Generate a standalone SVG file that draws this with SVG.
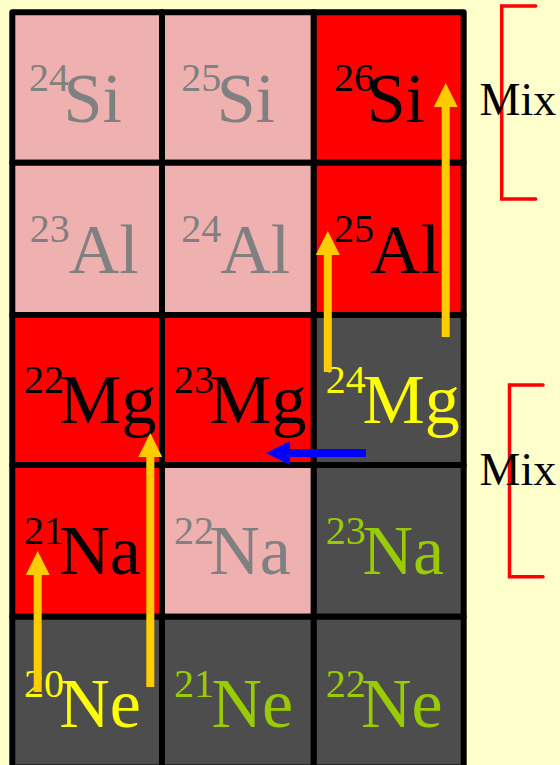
<svg xmlns="http://www.w3.org/2000/svg" width="560" height="765" viewBox="0 0 560 765">
<style>
.cell{stroke:#000;stroke-width:6;stroke-linejoin:round}
.pink{fill:#EFB0B0}
.red{fill:#FF0000}
.dark{fill:#4D4D4D}
text{font-family:"Liberation Serif","Times New Roman",serif}
.m{font-size:70px}
.s{font-size:40px}
.gray{fill:#808080}
.blk{fill:#000}
.yel{fill:#FFFF00}
.grn{fill:#99CC00}
.orange{stroke:#FFCC00;stroke-width:8;fill:none;marker-end:url(#ho)}
.blue{stroke:#0000FF;stroke-width:8;fill:none;marker-end:url(#hb)}
.brk{stroke:#FF0000;stroke-width:3.5;fill:none;stroke-linecap:round;stroke-linejoin:miter}
.mix{font-size:46px;fill:#000}
</style>
<defs>
<marker id="ho" markerUnits="userSpaceOnUse" markerWidth="24" markerHeight="24" refX="0" refY="12" orient="auto" viewBox="0 0 24 24"><path d="M0,0 L24,12 L0,24 Z" fill="#FFCC00"/></marker>
<marker id="hb" markerUnits="userSpaceOnUse" markerWidth="24" markerHeight="24" refX="0" refY="12" orient="auto" viewBox="0 0 24 24"><path d="M0,0 L24,12 L0,24 Z" fill="#0000FF"/></marker>
</defs>
<rect width="560" height="765" fill="#FFFFCC"/>

<g id="Si24"><rect class="cell pink" x="12.3" y="12.3" width="149.7" height="150.5"/><text class="gray"><tspan class="s" x="29" y="91">24</tspan><tspan class="m" x="63.5" y="121.5">Si</tspan></text></g>
<g id="Si25"><rect class="cell pink" x="162" y="12.3" width="151.8" height="150.5"/><text class="gray"><tspan class="s" x="181.3" y="91">25</tspan><tspan class="m" x="216.7" y="121.5">Si</tspan></text></g>
<g id="Si26"><rect class="cell red" x="313.8" y="12.3" width="149.9" height="150.5"/><text class="blk"><tspan class="s" x="334" y="91">26</tspan><tspan class="m" x="366.7" y="121.5">Si</tspan></text></g>

<g id="Al23"><rect class="cell pink" x="12.3" y="162.8" width="149.7" height="152.2"/><text class="gray"><tspan class="s" x="29.7" y="242">23</tspan><tspan class="m" x="68.8" y="273">Al</tspan></text></g>
<g id="Al24"><rect class="cell pink" x="162" y="162.8" width="151.8" height="152.2"/><text class="gray"><tspan class="s" x="181.3" y="242">24</tspan><tspan class="m" x="220.2" y="273">Al</tspan></text></g>
<g id="Al25"><rect class="cell red" x="313.8" y="162.8" width="149.9" height="152.2"/><text class="blk"><tspan class="s" x="334" y="242">25</tspan><tspan class="m" x="370.2" y="273">Al</tspan></text></g>

<g id="Mg22"><rect class="cell red" x="12.3" y="315" width="149.7" height="150"/><text class="blk"><tspan class="s" x="24" y="392.5">22</tspan><tspan class="m" x="59.2" y="422.5">Mg</tspan></text></g>
<g id="Mg23"><rect class="cell red" x="162" y="315" width="151.8" height="150"/><text class="blk"><tspan class="s" x="174" y="392.5">23</tspan><tspan class="m" x="209.2" y="422.5">Mg</tspan></text></g>
<g id="Mg24"><rect class="cell dark" x="313.8" y="315" width="149.9" height="150"/><text class="yel"><tspan class="s" x="325.7" y="392.5">24</tspan><tspan class="m" x="362.5" y="422.5">Mg</tspan></text></g>

<g id="Na21"><rect class="cell red" x="12.3" y="465" width="149.7" height="151.7"/><text class="blk"><tspan class="s" x="24" y="544">21</tspan><tspan class="m" x="59.2" y="574">Na</tspan></text></g>
<g id="Na22"><rect class="cell pink" x="162" y="465" width="151.8" height="151.7"/><text class="gray"><tspan class="s" x="174" y="544">22</tspan><tspan class="m" x="209.2" y="574">Na</tspan></text></g>
<g id="Na23"><rect class="cell dark" x="313.8" y="465" width="149.9" height="151.7"/><text class="grn"><tspan class="s" x="325.7" y="544">23</tspan><tspan class="m" x="362.5" y="574">Na</tspan></text></g>

<g id="Ne20"><rect class="cell dark" x="12.3" y="616.7" width="149.7" height="150.8"/><text class="yel"><tspan class="s" x="24" y="696.5">20</tspan><tspan class="m" x="59.2" y="727">Ne</tspan></text></g>
<g id="Ne21"><rect class="cell dark" x="162" y="616.7" width="151.8" height="150.8"/><text class="grn"><tspan class="s" x="174" y="696.5">21</tspan><tspan class="m" x="211.5" y="727">Ne</tspan></text></g>
<g id="Ne22"><rect class="cell dark" x="313.8" y="616.7" width="149.9" height="150.8"/><text class="grn"><tspan class="s" x="325.7" y="696.5">22</tspan><tspan class="m" x="361" y="727">Ne</tspan></text></g>

<g id="mix-top"><path class="brk" d="M535.7,6 H501.7 V199 H535.7"/><text class="mix" x="479.5" y="115">Mix</text></g>
<g id="mix-bottom"><path class="brk" d="M543,385 H509.5 V576.7 H543"/><text class="mix" x="479.5" y="484.5">Mix</text></g>

<g id="connectors">
<line class="orange" x1="445.7" y1="337" x2="445.7" y2="107"/>
<line class="orange" x1="327.8" y1="372" x2="327.8" y2="255"/>
<line class="orange" x1="150.3" y1="687" x2="150.3" y2="457"/>
<line class="orange" x1="37.7" y1="692" x2="37.7" y2="575"/>
<line class="blue" x1="366" y1="453" x2="290" y2="453"/>
</g>
</svg>
